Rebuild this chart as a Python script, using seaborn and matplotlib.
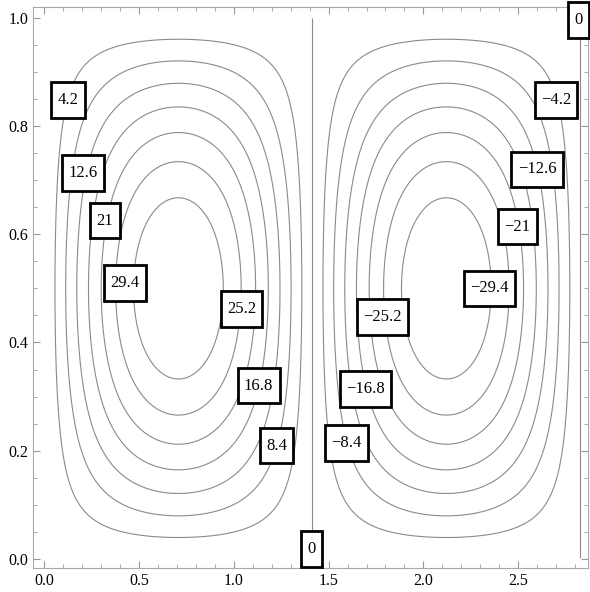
import numpy as np
import matplotlib
matplotlib.use("Agg")
import matplotlib.pyplot as plt
from matplotlib.path import Path
import seaborn as sns

# ---- data ----
amplitude = 34.0            # peak stream-function value of each cell
half_width = np.sqrt(2.0)   # width of one cell (zero line at x = sqrt(2), 2*sqrt(2))
levels = [-29.4, -25.2, -21.0, -16.8, -12.6, -8.4, -4.2, 0.0,
          4.2, 8.4, 12.6, 16.8, 21.0, 25.2, 29.4]
label_text = ["4.2", "12.6", "21", "29.4", "25.2", "16.8", "8.4", "0",
              "\u22128.4", "\u221216.8", "\u221225.2", "\u221229.4", "\u221221",
              "\u221212.6", "\u22124.2", "0"]
label_x = [0.124, 0.204, 0.320, 0.426, 1.040, 1.130, 1.225, 1.410,
           1.595, 1.695, 1.786, 2.350, 2.495, 2.600, 2.700, 2.818]
label_y = [0.848, 0.713, 0.625, 0.510, 0.462, 0.320, 0.209, 0.018,
           0.214, 0.314, 0.447, 0.500, 0.614, 0.720, 0.848, 0.996]
xticks = [0.0, 0.5, 1.0, 1.5, 2.0, 2.5]
yticks = [0.0, 0.2, 0.4, 0.6, 0.8, 1.0]

sns.set_theme(style="ticks")
plt.rcParams["font.family"] = ["Liberation Serif", "DejaVu Serif"]

fig = plt.figure(figsize=(5.9, 5.92), dpi=100)
ax = fig.add_axes([0.056, 0.0405, 0.941, 0.9475])

xs = np.linspace(0.001, 2.86, 700)
ys = np.linspace(0.001, 0.999, 400)
X, Y = np.meshgrid(xs, ys)
Z = amplitude * np.sin(np.pi * X / half_width) * np.sin(np.pi * Y)

ax.contour(X, Y, Z, levels=levels, colors="#8a8a8a", linewidths=0.8,
           linestyles="solid")


def box_style(x0, y0, width, height, mutation_size):
    padx = 0.38 * mutation_size
    pady = 0.58 * mutation_size
    x0 -= padx
    y0 -= pady
    w = width + 2 * padx
    h = height + 2 * pady
    return Path([(x0, y0), (x0 + w, y0), (x0 + w, y0 + h), (x0, y0 + h), (x0, y0)],
                closed=True)


for t, lx, ly in zip(label_text, label_x, label_y):
    ax.text(lx, ly, t, ha="center", va="center", fontsize=12, color="black",
            zorder=5,
            bbox=dict(boxstyle=box_style, facecolor="white", edgecolor="black",
                      linewidth=2.0))

ax.set_xlim(-0.06, 2.87)
ax.set_ylim(-0.017, 1.02)
ax.set_xticks(xticks)
ax.set_yticks(yticks)
ax.set_xticklabels([f"{v:.1f}" for v in xticks])
ax.set_yticklabels([f"{v:.1f}" for v in yticks])
ax.set_xticks(np.arange(0.0, 2.85, 0.1), minor=True)
ax.set_yticks(np.arange(0.0, 1.01, 0.05), minor=True)
ax.tick_params(which="both", direction="in", top=True, right=True,
               color="#999999", labelsize=11.5, labelcolor="black")
ax.tick_params(which="major", length=5, width=0.8)
ax.tick_params(which="minor", length=3, width=0.6)
for s in ax.spines.values():
    s.set_color("#aaaaaa")
    s.set_linewidth(0.8)
ax.set_facecolor("white")

fig.savefig("out.png", dpi=100, facecolor="white")
